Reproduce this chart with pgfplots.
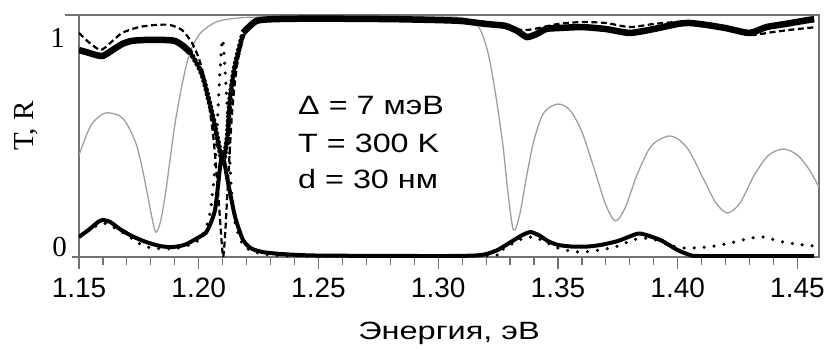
\documentclass[border=0pt]{standalone}
\usepackage{pgfplots}
\pgfplotsset{compat=1.18}
\usetikzlibrary{calc}
\usepackage{fontspec}
\setmainfont{Liberation Sans}
\newfontfamily\serifff{Liberation Serif}
\newfontfamily\wideA[FakeStretch=1.22]{Liberation Sans}
\newfontfamily\wideB[FakeStretch=1.30]{Liberation Sans}
\definecolor{framec}{gray}{0.45}
\definecolor{tcol}{gray}{0.62}

\pgfplotstableread{
x y
1.150 0.421
1.155 0.545
1.160 0.591
1.163 0.595
1.167 0.583
1.170 0.550
1.174 0.463
1.177 0.339
1.180 0.186
1.182 0.103
1.184 0.145
1.186 0.256
1.188 0.400
1.190 0.545
1.193 0.710
1.196 0.835
1.200 0.917
1.205 0.959
1.210 0.979
1.220 0.990
1.240 0.992
1.300 0.992
1.310 0.988
1.315 0.971
1.318 0.930
1.321 0.835
1.324 0.670
1.327 0.463
1.329 0.277
1.3314 0.112
1.334 0.174
1.337 0.339
1.340 0.483
1.344 0.595
1.3498 0.632
1.355 0.607
1.360 0.517
1.365 0.368
1.370 0.215
1.374 0.149
1.378 0.202
1.383 0.339
1.389 0.459
1.397 0.500
1.404 0.450
1.411 0.318
1.416 0.223
1.4208 0.182
1.426 0.223
1.432 0.339
1.438 0.421
1.4442 0.446
1.450 0.421
1.455 0.360
1.459 0.289
}\gray

\pgfplotstableread{
x y
1.150 0.855
1.153 0.847
1.157 0.835
1.160 0.831
1.164 0.855
1.168 0.880
1.172 0.893
1.178 0.897
1.185 0.897
1.190 0.893
1.1935 0.872
1.1965 0.845
}\RexpA

\pgfplotstableread{
x y
1.1965 0.845
1.200 0.785
1.202 0.735
1.204 0.657
1.206 0.574
1.208 0.480
1.2095 0.410
1.2105 0.405
1.212 0.500
1.213 0.649
1.215 0.785
1.2185 0.926
}\RexpB

\pgfplotstableread{
x y
1.2185 0.926
1.224 0.975
1.232 0.983
1.250 0.985
1.280 0.983
1.300 0.979
1.310 0.975
1.320 0.963
1.328 0.955
1.333 0.934
1.337 0.909
1.341 0.921
1.345 0.942
1.350 0.946
1.360 0.950
1.370 0.942
1.380 0.926
1.390 0.942
1.400 0.963
1.405 0.967
1.412 0.959
1.420 0.946
1.430 0.926
1.437 0.950
1.445 0.963
1.452 0.975
1.457 0.983
}\RexpC

\pgfplotstableread{
x y
1.150 0.083
1.154 0.112
1.158 0.145
1.160 0.153
1.163 0.145
1.167 0.116
1.172 0.087
1.178 0.062
1.184 0.045
1.189 0.041
1.194 0.050
1.198 0.070
1.201 0.087
1.203 0.100
1.205 0.140
1.2068 0.194
1.208 0.290
1.209 0.380
1.2097 0.420
1.2105 0.400
1.212 0.320
1.213 0.270
1.2152 0.165
1.2185 0.070
1.222 0.035
1.227 0.020
1.235 0.012
1.250 0.006
1.300 0.004
1.315 0.006
1.320 0.012
1.325 0.030
1.330 0.060
1.335 0.090
1.3385 0.103
1.342 0.090
1.346 0.065
1.350 0.050
1.356 0.043
1.362 0.043
1.368 0.050
1.375 0.066
1.380 0.085
1.3844 0.097
1.3928 0.070
1.3999 0.029
1.4053 0.008
1.410 0.004
1.457 0.004
}\Texp

\pgfplotstableread{
x y
1.150 0.926
1.154 0.888
1.159 0.855
1.163 0.884
1.168 0.926
1.175 0.950
1.182 0.959
1.188 0.959
1.193 0.938
1.197 0.888
1.200 0.822
1.203 0.711
1.206 0.504
1.208 0.277
1.2095 0.070
1.2102 0.000
1.211 0.090
1.2125 0.360
1.214 0.607
1.216 0.793
1.219 0.917
1.223 0.971
1.230 0.988
1.250 0.992
1.300 0.983
1.320 0.971
1.330 0.950
1.335 0.938
1.340 0.942
1.350 0.963
1.360 0.971
1.370 0.967
1.380 0.950
1.390 0.963
1.400 0.971
1.410 0.963
1.420 0.942
1.430 0.917
1.440 0.930
1.450 0.942
1.458 0.950
}\Rcalc

\pgfplotstableread{
x y
1.150 0.083
1.160 0.140
1.170 0.090
1.177 0.045
1.183 0.035
1.190 0.035
1.196 0.050
1.200 0.070
1.203 0.120
1.205 0.200
1.207 0.400
1.2085 0.700
1.2100 0.900
1.212 0.600
1.2135 0.300
1.215 0.150
1.218 0.060
1.222 0.025
1.230 0.008
1.250 0.003
1.320 0.005
1.325 0.020
1.330 0.050
1.335 0.075
1.340 0.083
1.345 0.060
1.350 0.037
1.355 0.025
1.360 0.020
1.367 0.028
1.375 0.045
1.381 0.070
1.386 0.078
1.391 0.070
1.397 0.048
1.4024 0.037
1.4124 0.041
1.422 0.058
1.4304 0.078
1.4354 0.083
1.444 0.062
1.4525 0.050
1.4576 0.045
}\Tcalc

\begin{document}
\begin{tikzpicture}
\begin{axis}[
  scale only axis,
  width=740pt, height=242pt,
  xmin=1.15, xmax=1.459,
  ymin=0, ymax=1,
  axis line style={framec, line width=1.2pt},
  xtick={1.15,1.20,1.25,1.30,1.35,1.40,1.45},
  xticklabels={1.15,1.20,1.25,1.30,1.35,1.40,1.45},
  minor x tick num=4,
  ytick=\empty,
  minor ytick={0.25,0.5,0.75},
  xtick pos=bottom, ytick pos=left,
  tick align=outside,
  major tick length=12pt, minor tick length=8pt,
  tick style={framec, line width=1.2pt},
  /pgf/number format/assume math mode=true,
  xticklabel style={font=\fontsize{28}{30}\selectfont, inner sep=0pt, anchor=north, yshift=-9pt},
  clip=true,
]
\addplot[tcol, line width=1.3pt, smooth, tension=0.5] table {\gray};
\addplot[black, line width=6.5pt, smooth, tension=0.4] table {\RexpA};
\addplot[black, line width=5.5pt, dash pattern=on 0pt off 4.5pt, line cap=round, smooth, tension=0.4] table {\RexpB};
\addplot[black, line width=6.5pt, smooth, tension=0.4] table {\RexpC};
\addplot[black, line width=4pt, smooth, tension=0.4] table {\Texp};
\addplot[black, line width=2.2pt, dash pattern=on 6pt off 3.5pt, smooth, tension=0.4] table {\Rcalc};
\addplot[black, line width=3.5pt, dash pattern=on 0pt off 10pt, line cap=round, smooth, tension=0.4] table {\Tcalc};
\end{axis}
\draw[framec, line width=1.2pt] ([xshift=-14pt]current axis.north west) -- (current axis.north west);
\draw[framec, line width=1.2pt] ([xshift=-7pt]current axis.south west) -- (current axis.south west);
\node[anchor=east, inner sep=0pt, font=\serifff\fontsize{29}{31}\selectfont] at ([xshift=-14pt]$(current axis.south west)!0.907!(current axis.north west)$) {1};
\node[anchor=east, inner sep=0pt, font=\serifff\fontsize{29}{31}\selectfont] at ([xshift=-12pt]$(current axis.south west)!0.041!(current axis.north west)$) {0};
\node[rotate=90, inner sep=0pt, font=\serifff\fontsize{29}{31}\selectfont] at ([xshift=-53pt]$(current axis.south west)!0.541!(current axis.north west)$) {T, R};
\node[anchor=base, inner sep=0pt, font=\wideB\fontsize{25}{27}\selectfont] at ([yshift=-82pt]current axis.south) {Энергия, эВ};
\begin{scope}[font=\wideA\fontsize{26.5}{28}\selectfont]
\node[anchor=base west, inner sep=0pt] at ([xshift=219pt,yshift=143pt]current axis.south west) {Δ = 7 мэВ};
\node[anchor=base west, inner sep=0pt] at ([xshift=219pt,yshift=105pt]current axis.south west) {T = 300 K};
\node[anchor=base west, inner sep=0pt] at ([xshift=219pt,yshift=69pt]current axis.south west) {d = 30 нм};
\end{scope}
\pgfresetboundingbox
\path ([shift={(-79pt,-92pt)}]current axis.south west) rectangle ([shift={(11pt,15pt)}]current axis.north east);
\end{tikzpicture}
\end{document}
